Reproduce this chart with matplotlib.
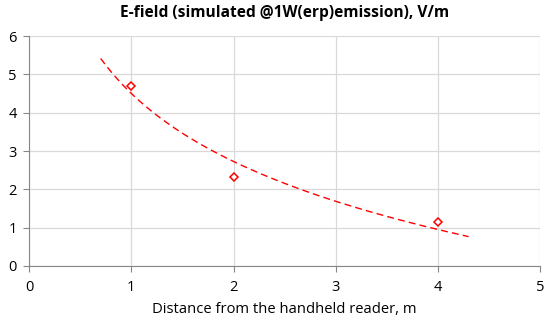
import numpy as np
import matplotlib
matplotlib.use("Agg")
import matplotlib.pyplot as plt

plt.rcParams['font.family'] = ['Open Sans', 'DejaVu Sans']

distance = [1, 2, 4]
efield = [4.7, 2.33, 1.15]

# logarithmic trend line, extended 0.3 both ways like Excel
b, a = np.polyfit(np.log(distance), efield, 1)
xt = np.linspace(min(distance) - 0.3, max(distance) + 0.3, 200)
yt = a + b * np.log(xt)

fig = plt.figure(figsize=(5.5, 3.22), dpi=100)
ax = fig.add_axes([0.053, 0.174, 0.929, 0.714])

ax.plot(xt, yt, color='#ff0000', linestyle=(0, (5, 3)), linewidth=1.0, zorder=3)
ax.plot(distance, efield, linestyle='none', marker='D', markersize=4.3,
        markerfacecolor='white', markeredgecolor='#ff0000', markeredgewidth=1.1, zorder=4)

ax.set_xlim(0, 5)
ax.set_ylim(0, 6)
ax.set_xticks(range(0, 6))
ax.set_yticks(range(0, 7))
ax.grid(True, color='#d9d9d9', linewidth=0.9)
ax.set_axisbelow(True)
for s in ['top', 'right']:
    ax.spines[s].set_visible(False)
for s in ['left', 'bottom']:
    ax.spines[s].set_color('#868686')
ax.tick_params(direction='out', length=4, color='#868686', labelsize=10.5, labelcolor='black')
ax.tick_params(axis='x', pad=6)
ax.tick_params(axis='y', pad=5)

ax.set_xlabel('Distance from the handheld reader, m', fontsize=10.6, labelpad=5)
ax.set_title('E-field (simulated @1W(erp)emission), V/m', fontsize=11.2, fontweight='bold', pad=14)

fig.savefig('out.png', dpi=100)
